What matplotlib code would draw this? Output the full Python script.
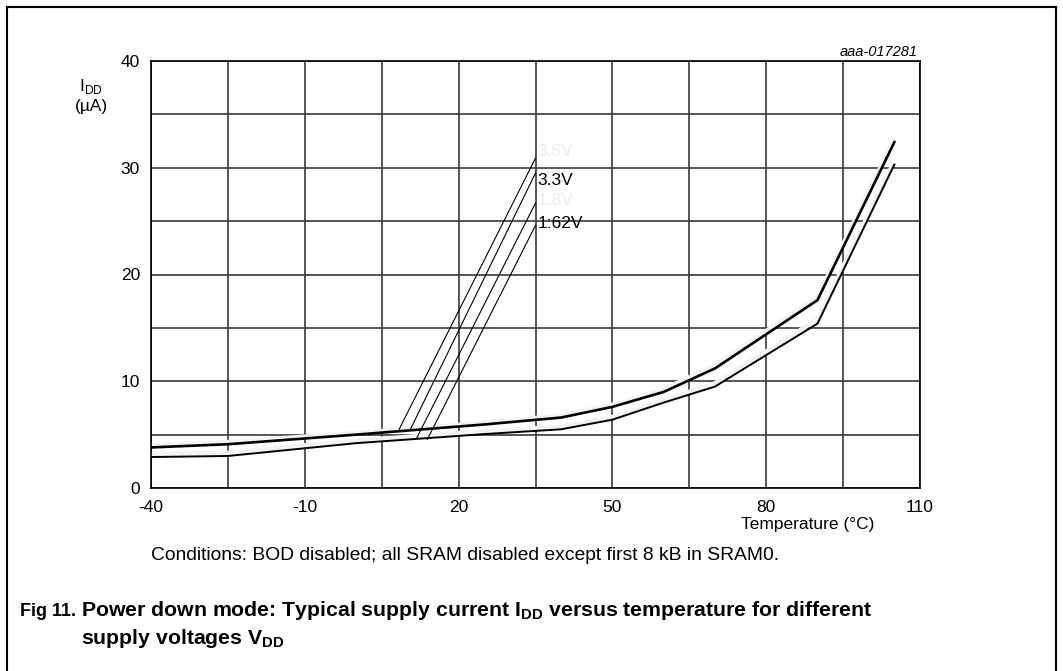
import matplotlib
matplotlib.use("Agg")
import matplotlib.pyplot as plt
from matplotlib.lines import Line2D

plt.rcParams['font.family'] = ['Liberation Sans', 'DejaVu Sans']
plt.rcParams['mathtext.fontset'] = 'custom'
plt.rcParams['mathtext.rm'] = 'Liberation Sans'
plt.rcParams['mathtext.bf'] = 'Liberation Sans:bold'
plt.rcParams['axes.unicode_minus'] = False

# supply current (uA) vs temperature (degC)
temps = [-40, -25, 0, 25, 40, 50, 60, 70, 90, 105]
idd_3v6 = [4.0, 4.3, 5.15, 6.1, 6.8, 7.8, 9.25, 11.5, 17.9, 32.7]
idd_3v3 = [3.8, 4.1, 5.0, 5.95, 6.6, 7.6, 9.0, 11.2, 17.6, 32.4]
idd_1v8 = [3.2, 3.3, 4.45, 5.3, 5.75, 6.65, 8.25, 9.8, 15.8, 30.6]
idd_1v62 = [2.9, 3.0, 4.2, 5.05, 5.5, 6.4, 8.0, 9.5, 15.4, 30.3]

labels = ['3.6V', '3.3V', '1.8V', '1:62V']
label_colors = ['#ececec', 'black', '#ececec', 'black']
label_y = [31.5, 28.85, 26.9, 24.8]
# leader line ends: on the curve / at the label
leader_from = [(8.4, 5.5), (10.5, 5.4), (11.8, 4.65), (13.9, 4.55)]
leader_to = [(35, 30.9), (35, 29.5), (35, 26.7), (35, 24.6)]

x_ticks = [-40, -10, 20, 50, 80, 110]
x_grid = [-40, -25, -10, 5, 20, 35, 50, 65, 80, 95, 110]
y_ticks = [0, 10, 20, 30, 40]
y_grid = [0, 5, 10, 15, 20, 25, 30, 35, 40]

fig = plt.figure(figsize=(10.63, 6.71), dpi=100)
ax = fig.add_axes([151/1063, 1 - 488/671, 769/1063, 427/671])

for gx in x_grid:
    ax.axvline(gx, color='#3a3a3a', lw=1.2, zorder=1)
for gy in y_grid:
    ax.axhline(gy, color='#3a3a3a', lw=1.2, zorder=1)

ax.plot(temps, idd_3v6, color='#f3f3f3', lw=3.2, zorder=2, solid_capstyle='butt')
ax.plot(temps, idd_1v8, color='#f3f3f3', lw=3.2, zorder=2, solid_capstyle='butt')
ax.plot(temps, idd_3v3, color='black', lw=1.9, zorder=3)
ax.plot(temps, idd_1v62, color='black', lw=1.4, zorder=3)

for lab, c, ly, p0, p1 in zip(labels, label_colors, label_y, leader_from, leader_to):
    ax.plot([p0[0], p1[0]], [p0[1], p1[1]], color='black', lw=0.8, zorder=4)
    ax.text(35.4, ly, lab, color=c, fontsize=12.5, va='center', ha='left', zorder=5)

ax.set_xlim(-40, 110)
ax.set_ylim(0, 40)
ax.set_xticks(x_ticks)
ax.set_xticklabels([str(v) for v in x_ticks])
ax.set_yticks(y_ticks)
ax.set_yticklabels([str(v) for v in y_ticks])
ax.tick_params(length=0, labelsize=12.5, pad=9)
ax.tick_params(axis='y', pad=8)
for s in ax.spines.values():
    s.set_color('black')
    s.set_linewidth(1.2)

fig.text(918/1063, 1 - 52/671, 'aaa-017281', ha='right', va='center',
         fontsize=10.5, style='italic')
fig.text(808/1063, 1 - 524/671, 'Temperature (°C)', ha='center', va='center', fontsize=12.5)
fig.text(91/1063, 1 - 87/671, r'I$_{\mathregular{DD}}$', ha='center', va='center', fontsize=12.5)
fig.text(91/1063, 1 - 106/671, '(µA)', ha='center', va='center', fontsize=12.5)

fig.text(151/1063, 1 - 555/671,
         'Conditions: BOD disabled; all SRAM disabled except first 8 kB in SRAM0.',
         ha='left', va='center', fontsize=13.9)
fig.text(20/1063, 1 - 611/671, 'Fig 11.', ha='left', va='center', fontsize=13, weight='bold')
fig.text(81/1063, 1 - 611/671,
         r'Power down mode: Typical supply current I$_{\mathbf{DD}}$ versus temperature for different',
         ha='left', va='center', fontsize=15.3, weight='bold')
fig.text(81/1063, 1 - 638/671, r'supply voltages V$_{\mathbf{DD}}$',
         ha='left', va='center', fontsize=15.3, weight='bold')

# page frame (open at the bottom)
fl, fr, ft = 7/1063, 1056/1063, 1 - 7/671
for xs, ys in [([fl, fr], [ft, ft]), ([fl, fl], [ft, -0.01]), ([fr, fr], [ft, -0.01])]:
    fig.add_artist(Line2D(xs, ys, color='black', lw=1.5, transform=fig.transFigure))

fig.savefig('out.png', dpi=100)
